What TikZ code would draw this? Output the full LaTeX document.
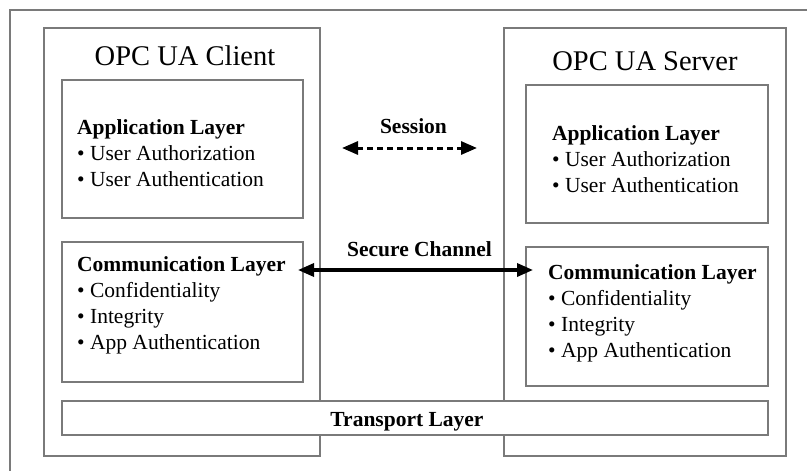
\documentclass[tikz,border=0pt]{standalone}
\usepackage{fontspec}
\setmainfont{Liberation Serif}
\usetikzlibrary{arrows.meta}
\definecolor{edge}{HTML}{7A7A7A}
\newcommand{\layerlines}[1]{\vtop{#1}}
\tikzset{
  panel/.style={draw=edge, line width=1.3pt, fill=white, inner sep=0pt},
  titletext/.style={inner sep=0pt, font=\fontsize{28.5}{34}\selectfont},
  layertext/.style={inner sep=0pt, anchor=base west,
    font=\fontsize{21.5}{26}\selectfont},
  labeltext/.style={inner sep=0pt, anchor=base, font=\fontsize{21.5}{26}\selectfont\bfseries},
  link/.style={line width=3.4pt, {Triangle[length=16pt,width=13pt]}-{Triangle[length=16pt,width=13pt]}},
  sessionlink/.style={link, line width=3pt, dash pattern=on 6pt off 4pt}
}
\begin{document}
\begin{tikzpicture}[x=1pt, y=-1pt]
\useasboundingbox (0,0) rectangle (807,471);

% surrounding frame (open to the right and bottom)
\draw[edge, line width=1.3pt] (10,471) -- (10,10) -- (807,10);

% client side
\node[panel, minimum width=276pt, minimum height=428pt] (client) at (182,242) {};
\node[titletext, anchor=base] (clienttitle) at (185,65) {OPC UA Client};
\node[panel, minimum width=241pt, minimum height=138pt] (capp) at (182.5,149) {};
\node[layertext] (capptext) at (77,134)
  {\layerlines{\hbox{\textbf{Application Layer}}\hbox{• User Authorization}\hbox{• User Authentication}}};
\node[panel, minimum width=241pt, minimum height=140pt] (ccomm) at (182.5,312) {};
\node[layertext] (ccommtext) at (77,271)
  {\layerlines{\hbox{\textbf{Communication Layer}}\hbox{• Confidentiality}\hbox{• Integrity}\hbox{• App Authentication}}};

% server side
\node[panel, minimum width=282pt, minimum height=428pt] (server) at (645,242) {};
\node[titletext, anchor=base] (servertitle) at (645,70) {OPC UA Server};
\node[panel, minimum width=242pt, minimum height=138pt] (sapp) at (647,154) {};
\node[layertext] (sapptext) at (552,140)
  {\layerlines{\hbox{\textbf{Application Layer}}\hbox{• User Authorization}\hbox{• User Authentication}}};
\node[panel, minimum width=242pt, minimum height=139pt] (scomm) at (647,316.5) {};
\node[layertext] (scommtext) at (548,279)
  {\layerlines{\hbox{\textbf{Communication Layer}}\hbox{• Confidentiality}\hbox{• Integrity}\hbox{• App Authentication}}};

% shared transport layer
\node[panel, minimum width=706pt, minimum height=34pt] (transport) at (415,418) {};
\node[labeltext] (transporttext) at (407,426) {Transport Layer};

% session between the application layers
\node[labeltext] (sessionlabel) at (413.5,133) {Session};
\coordinate (sessL) at (342,148);
\coordinate (sessR) at (477,148);
\draw[sessionlink] (sessL) -- (sessR);

% secure channel between the communication layers
\node[labeltext] (channellabel) at (419.5,256) {Secure Channel};
\coordinate (chanL) at (298,270);
\coordinate (chanR) at (533,270);
\draw[link] (chanL) -- (chanR);
\end{tikzpicture}
\end{document}
